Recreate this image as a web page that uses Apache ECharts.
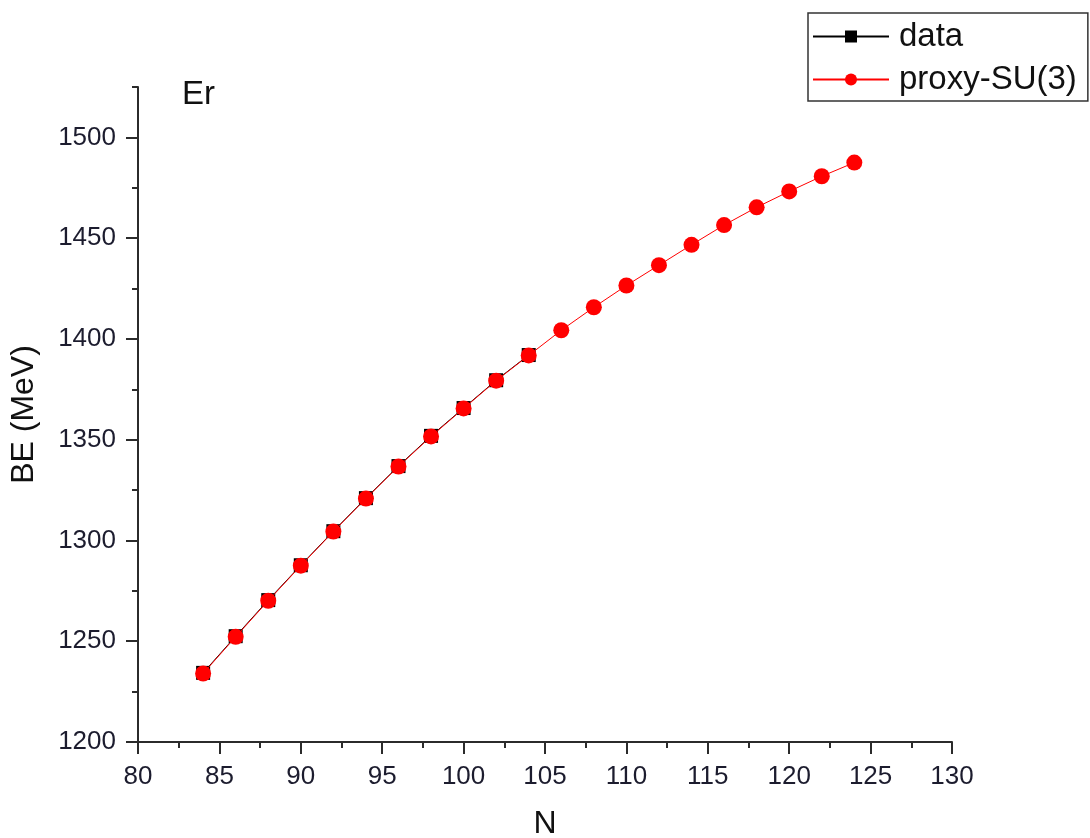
<!DOCTYPE html>
<html>
<head>
<meta charset="utf-8">
<script src="https://cdn.jsdelivr.net/npm/echarts@6/dist/echarts.min.js"></script>
<style>
  html, body { margin: 0; padding: 0; background: #fff; }
  #chart { width: 1090px; height: 838px; }
</style>
</head>
<body>
<div id="chart"></div>
<script>
// Neutron number N for measured nuclei and for the proxy-SU(3) prediction
var nData = [84, 86, 88, 90, 92, 94, 96, 98, 100, 102, 104];
var beData = [1234.3, 1252.5, 1270.4, 1287.7, 1304.6, 1321.0, 1336.9, 1351.9, 1365.7, 1379.5, 1392.0];

var nProxy = [84, 86, 88, 90, 92, 94, 96, 98, 100, 102, 104, 106, 108, 110, 112, 114, 116, 118, 120, 122, 124];
var beProxy = [1234.0, 1252.2, 1270.1, 1287.5, 1304.4, 1320.8, 1336.7, 1351.6, 1365.5, 1379.3, 1391.8,
               1404.3, 1415.7, 1426.5, 1436.6, 1446.7, 1456.5, 1465.3, 1473.2, 1480.7, 1487.5];

// Axis tick values
var xMajorTicks = [80, 85, 90, 95, 100, 105, 110, 115, 120, 125, 130];
var yMajorTicks = [1200, 1250, 1300, 1350, 1400, 1450, 1500];

function pairs(xs, ys) {
  return xs.map(function (x, i) { return [x, ys[i]]; });
}

var FONT = '"Liberation Sans", Arial, sans-serif';
var AXIS_COLOR = '#2b2b2b';
var LABEL_COLOR = '#1c1c2e';

var chart = echarts.init(document.getElementById('chart'), null, { renderer: 'canvas' });

chart.setOption({
  animation: false,
  backgroundColor: '#ffffff',
  textStyle: { fontFamily: FONT },
  title: {
    text: 'Er',
    left: 182,
    top: 78,
    padding: 0,
    textStyle: { fontFamily: FONT, fontSize: 33, fontWeight: 'normal', color: '#111' }
  },
  legend: {
    orient: 'vertical',
    left: 808,
    top: 13,
    padding: [7, 11, 5, 4],
    itemGap: 10,
    itemWidth: 76,
    itemHeight: 15,
    borderColor: '#333',
    borderWidth: 1.5,
    borderRadius: 0,
    backgroundColor: '#fff',
    textStyle: { fontFamily: FONT, fontSize: 33, color: '#111', padding: [0, 0, 0, 5] },
    data: ['data', 'proxy-SU(3)']
  },
  grid: {
    left: 138,
    right: 138,
    top: 87,
    bottom: 96,
    containLabel: false,
    outerBoundsMode: 'none'
  },
  xAxis: {
    type: 'value',
    min: 80,
    max: 130,
    interval: 5,
    name: 'N',
    nameLocation: 'middle',
    nameGap: 66,
    nameTextStyle: { fontFamily: FONT, fontSize: 32, color: '#111' },
    axisLine: { show: true, lineStyle: { color: AXIS_COLOR, width: 2 } },
    axisTick: { show: true, inside: false, length: 12, lineStyle: { color: AXIS_COLOR, width: 2 } },
    minorTick: { show: true, splitNumber: 2, length: 6, lineStyle: { color: AXIS_COLOR, width: 2 } },
    axisLabel: {
      customValues: xMajorTicks,
      margin: 22,
      fontFamily: FONT,
      fontSize: 26,
      color: LABEL_COLOR,
      formatter: function (v) { return String(v); }
    },
    splitLine: { show: false }
  },
  yAxis: [
    {
      type: 'value',
      position: 'left',
      min: 1200,
      max: 1525,
      interval: 50,
      name: 'BE (MeV)',
      nameLocation: 'middle',
      nameGap: 98,
      nameRotate: 90,
      nameTextStyle: { fontFamily: FONT, fontSize: 32, color: '#111' },
      axisLine: { show: true, lineStyle: { color: AXIS_COLOR, width: 2 } },
      axisTick: { show: true, inside: false, length: 12, customValues: yMajorTicks, lineStyle: { color: AXIS_COLOR, width: 2 } },
      minorTick: { show: false },
      axisLabel: {
        customValues: yMajorTicks,
        margin: 22,
        fontFamily: FONT,
        fontSize: 26,
        color: LABEL_COLOR,
        formatter: function (v) { return String(v); }
      },
      splitLine: { show: false }
    },
    {
      // second scale on the same side carrying only the short intermediate ticks
      type: 'value',
      position: 'left',
      min: 1200,
      max: 1525,
      interval: 25,
      axisLine: { show: false },
      axisTick: { show: true, inside: false, length: 6, lineStyle: { color: AXIS_COLOR, width: 2 } },
      axisLabel: { show: false },
      splitLine: { show: false }
    }
  ],
  series: [
    {
      name: 'data',
      type: 'line',
      yAxisIndex: 0,
      data: pairs(nData, beData),
      symbol: 'rect',
      symbolSize: 14,
      showAllSymbol: true,
      lineStyle: { color: '#000', width: 1 },
      itemStyle: { color: '#000' },
      z: 2
    },
    {
      name: 'proxy-SU(3)',
      type: 'line',
      yAxisIndex: 0,
      data: pairs(nProxy, beProxy),
      symbol: 'circle',
      symbolSize: 16,
      showAllSymbol: true,
      lineStyle: { color: '#ff0000', width: 1 },
      itemStyle: { color: '#ff0000' },
      z: 3
    }
  ]
});
</script>
</body>
</html>
